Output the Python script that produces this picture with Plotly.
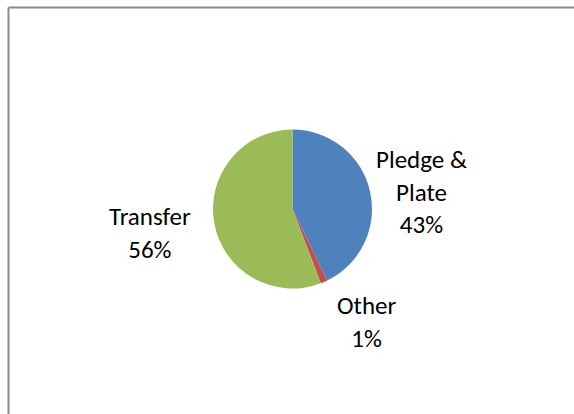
import plotly.graph_objects as go

labels = ["Pledge & Plate", "Other", "Transfer"]
values = [42.8, 1.4, 55.8]
colors = ["#4F81BD", "#C0504D", "#9BBB59"]
label_lines = ["Pledge &<br>Plate", "Other", "Transfer"]

W, H = 574, 414
cx, cy, r = 292.5, 209, 79.5

fig = go.Figure(go.Pie(
    labels=labels, values=values, sort=False, direction="clockwise", rotation=0,
    marker=dict(colors=colors, line=dict(width=0)),
    textinfo="none", hoverinfo="label+percent", showlegend=False,
    domain=dict(x=[(cx - r) / W, (cx + r) / W], y=[1 - (cy + r) / H, 1 - (cy - r) / H]),
))

total = sum(values)
pos = [(421.5, 192), (366.5, 322), (150, 233)]
font = dict(family="Carlito, Calibri, Lato, sans-serif", size=25, color="#000000")
for lab, v, (px, py) in zip(label_lines, values, pos):
    fig.add_annotation(x=px / W, y=1 - py / H, xref="paper", yref="paper",
                       text=f"{lab}<br>{round(v / total * 100):d}%", showarrow=False,
                       font=font, align="center", xanchor="center", yanchor="middle")

border = dict(color="#8C8C8C", width=2)
fig.add_shape(type="line", xref="paper", yref="paper",
              x0=8.5 / W, x1=1.0, y0=1 - 7.5 / H, y1=1 - 7.5 / H, line=border)
fig.add_shape(type="line", xref="paper", yref="paper",
              x0=8.5 / W, x1=8.5 / W, y0=0, y1=1 - 7.5 / H, line=border)

fig.update_layout(width=W, height=H, margin=dict(l=0, r=0, t=0, b=0),
                  paper_bgcolor="white", plot_bgcolor="white")
fig.write_html("out.html", config={"displayModeBar": False},
               post_script="document.body.style.margin='0';document.body.style.overflow='hidden';")
